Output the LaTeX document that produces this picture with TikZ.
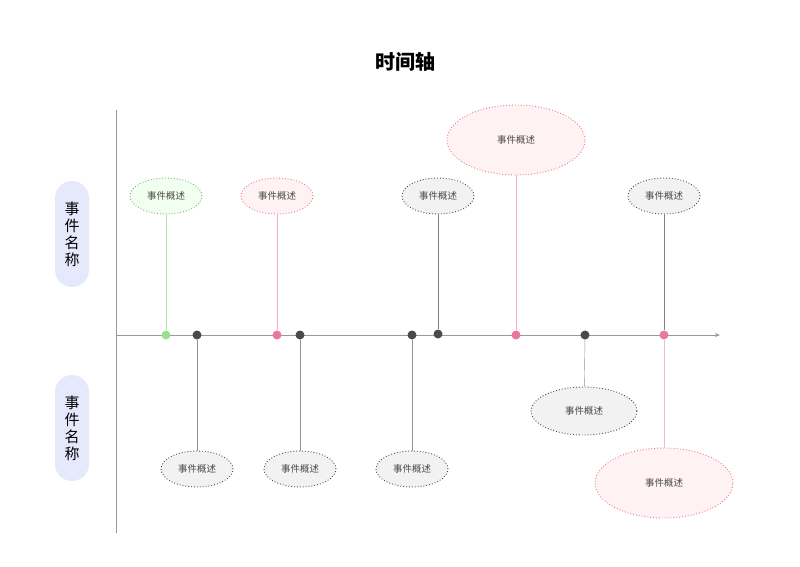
\documentclass[tikz,border=0pt]{standalone}
\usepackage{fontspec}
\setmainfont{Noto Sans CJK SC}
\usetikzlibrary{shapes.geometric,arrows.meta}
\definecolor{pinkc}{HTML}{E8789E}
\definecolor{greenc}{HTML}{9BE08F}
\definecolor{darkc}{HTML}{4A4A4A}
\definecolor{pillc}{HTML}{E6E9FB}
\tikzset{
  event/.style={ellipse, dotted, line width=0.9pt, minimum width=72pt, minimum height=36pt, inner sep=0pt, font=\fontsize{9.5}{10}\selectfont, text=darkc},
  greenev/.style={event, draw=greenc!80!black, fill=green!6},
  pinkev/.style={event, draw=pinkc, fill=red!5},
  grayev/.style={event, draw=darkc, fill=gray!10},
  bigev/.style={minimum width=138pt, minimum height=70pt},
  dot/.style={circle, inner sep=0pt, minimum size=9pt},
  pill/.style={rounded corners=17pt, fill=pillc, minimum width=34pt, minimum height=106pt, align=center, font=\fontsize{15}{17}\selectfont}
}
\begin{document}
\begin{tikzpicture}[x=1pt,y=-1pt]
\useasboundingbox (0,0) rectangle (800,566);
\node[font=\bfseries\fontsize{20}{20}\selectfont] (title) at (405,62) {时间轴};
% axes
\draw[gray!80, line width=1pt] (116,110) -- (116,533);
\draw[gray!80, line width=0.8pt, -{Stealth[length=5pt,width=4pt]}] (116,335) -- (720,335);
% side labels
\node[pill] (nameup) at (72,234) {事\\件\\名\\称};
\node[pill] (namedown) at (72,428) {事\\件\\名\\称};
% dots
\node[dot, fill=greenc] (d1) at (166,335) {};
\node[dot, fill=darkc] (d2) at (197,335) {};
\node[dot, fill=pinkc] (d3) at (277,335) {};
\node[dot, fill=darkc] (d4) at (300,335) {};
\node[dot, fill=darkc] (d5) at (412,335) {};
\node[dot, fill=darkc] (d6) at (438,334) {};
\node[dot, fill=pinkc] (d7) at (516,335) {};
\node[dot, fill=darkc] (d8) at (585,335) {};
\node[dot, fill=pinkc] (d9) at (664,335) {};
% events above
\node[greenev] (e1) at (166,196) {事件概述};
\node[pinkev] (e3) at (277,196) {事件概述};
\node[grayev] (e6) at (438,196) {事件概述};
\node[pinkev, bigev] (e7) at (516,140) {事件概述};
\node[grayev] (e9) at (664,196) {事件概述};
% events below
\node[grayev] (e2) at (197,469) {事件概述};
\node[grayev] (e4) at (300,469) {事件概述};
\node[grayev] (e5) at (412,469) {事件概述};
\node[grayev, minimum width=106pt, minimum height=48pt] (e8) at (584,411) {事件概述};
\node[pinkev, bigev] (e10) at (664,483) {事件概述};
% connectors
\draw[greenc!80] (e1) -- (d1);
\draw[pinkc!60] (e3) -- (d3);
\draw[darkc!70] (e6) -- (d6);
\draw[pinkc!60] (e7) -- (d7);
\draw[darkc!70] (e9) -- (d9);
\draw[darkc!60] (d2) -- (e2);
\draw[darkc!60] (d4) -- (e4);
\draw[darkc!60] (d5) -- (e5);
\draw[darkc!60] (d8) -- (e8);
\draw[pinkc!50] (d9) -- (e10);
\end{tikzpicture}
\end{document}
